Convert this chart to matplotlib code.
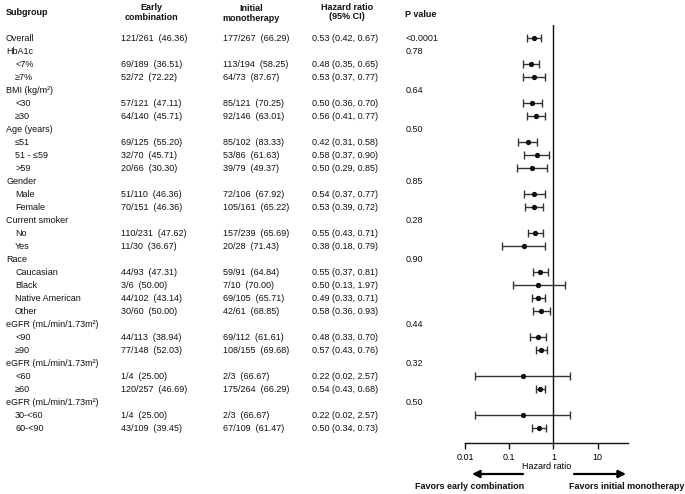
import matplotlib
matplotlib.use("Agg")
import matplotlib.pyplot as plt
from matplotlib.transforms import blended_transform_factory

plt.rcParams['font.family'] = ['Liberation Sans', 'DejaVu Sans']

# table rows (None = group header row without numbers)
labels = ["Overall", "HbA1c", "<7%", "≥7%", "BMI (kg/m²)", "<30", "≥30",
          "Age (years)", "≤51", "51 - ≤59", ">59", "Gender", "Male", "Female",
          "Current smoker", "No", "Yes", "Race", "Caucasian", "Black",
          "Native American", "Other", "eGFR (mL/min/1.73m²)", "<90", "≥90",
          "eGFR (mL/min/1.73m²)", "<60", "≥60", "eGFR (mL/min/1.73m²)",
          "30-<60", "60-<90"]
indented = [0, 0, 1, 1, 0, 1, 1, 0, 1, 1, 1, 0, 1, 1, 0, 1, 1, 0, 1, 1,
            1, 1, 0, 1, 1, 0, 1, 1, 0, 1, 1]

early = ["121/261  (46.36)", "", "69/189  (36.51)", "52/72  (72.22)", "",
         "57/121  (47.11)", "64/140  (45.71)", "", "69/125  (55.20)",
         "32/70  (45.71)", "20/66  (30.30)", "", "51/110  (46.36)",
         "70/151  (46.36)", "", "110/231  (47.62)", "11/30  (36.67)", "",
         "44/93  (47.31)", "3/6  (50.00)", "44/102  (43.14)", "30/60  (50.00)",
         "", "44/113  (38.94)", "77/148  (52.03)", "", "1/4  (25.00)",
         "120/257  (46.69)", "", "1/4  (25.00)", "43/109  (39.45)"]
initial = ["177/267  (66.29)", "", "113/194  (58.25)", "64/73  (87.67)", "",
           "85/121  (70.25)", "92/146  (63.01)", "", "85/102  (83.33)",
           "53/86  (61.63)", "39/79  (49.37)", "", "72/106  (67.92)",
           "105/161  (65.22)", "", "157/239  (65.69)", "20/28  (71.43)", "",
           "59/91  (64.84)", "7/10  (70.00)", "69/105  (65.71)",
           "42/61  (68.85)", "", "69/112  (61.61)", "108/155  (69.68)", "",
           "2/3  (66.67)", "175/264  (66.29)", "", "2/3  (66.67)",
           "67/109  (61.47)"]
hr_text = ["0.53 (0.42, 0.67)", "", "0.48 (0.35, 0.65)", "0.53 (0.37, 0.77)", "",
           "0.50 (0.36, 0.70)", "0.56 (0.41, 0.77)", "", "0.42 (0.31, 0.58)",
           "0.58 (0.37, 0.90)", "0.50 (0.29, 0.85)", "", "0.54 (0.37, 0.77)",
           "0.53 (0.39, 0.72)", "", "0.55 (0.43, 0.71)", "0.38 (0.18, 0.79)", "",
           "0.55 (0.37, 0.81)", "0.50 (0.13, 1.97)", "0.49 (0.33, 0.71)",
           "0.58 (0.36, 0.93)", "", "0.48 (0.33, 0.70)", "0.57 (0.43, 0.76)", "",
           "0.22 (0.02, 2.57)", "0.54 (0.43, 0.68)", "", "0.22 (0.02, 2.57)",
           "0.50 (0.34, 0.73)"]
p_values = ["<0.0001", "0.78", "", "", "0.64", "", "", "0.50", "", "", "",
            "0.85", "", "", "0.28", "", "", "0.90", "", "", "", "", "0.44",
            "", "", "0.32", "", "", "0.50", "", ""]

# markers as drawn in the plot panel
plot_rows = [0, 2, 3, 5, 6, 8, 9, 10, 12, 13, 15, 16, 18, 19, 20, 21, 23, 24,
             26, 27, 29, 30]
plot_hr = [0.36, 0.31, 0.37, 0.33, 0.40, 0.26, 0.42, 0.33, 0.36, 0.36, 0.38,
           0.22, 0.50, 0.45, 0.45, 0.53, 0.44, 0.51, 0.20, 0.50, 0.20, 0.46]
plot_lo = [0.25, 0.20, 0.21, 0.20, 0.25, 0.16, 0.22, 0.15, 0.22, 0.23, 0.27,
           0.07, 0.35, 0.12, 0.32, 0.34, 0.30, 0.40, 0.017, 0.40, 0.017, 0.32]
plot_hi = [0.53, 0.48, 0.63, 0.54, 0.63, 0.43, 0.81, 0.73, 0.63, 0.57, 0.57,
           0.66, 0.77, 1.81, 0.66, 0.84, 0.67, 0.70, 2.31, 0.63, 2.31, 0.68]

W, H = 685, 494
fig = plt.figure(figsize=(W / 100, H / 100), dpi=100)
ax = fig.add_axes([465 / W, 1 - 443 / H, (628 - 465) / W, (443 - 25) / H])

fs = 6.5
ink = '#111111'

# forest plot
err_lo = [h - l for h, l in zip(plot_hr, plot_lo)]
err_hi = [u - h for h, u in zip(plot_hr, plot_hi)]
ax.errorbar(plot_hr, plot_rows, xerr=[err_lo, err_hi], fmt='o', color=ink,
            ecolor='#333333', elinewidth=1.0, capsize=2.6, capthick=1.0,
            markersize=2.8)
ax.axvline(1, color=ink, lw=1.0)
ax.set_xscale('log')
ax.set_xlim(0.01, 48.5)
ax.set_ylim(31.15, -1.0)
ax.set_xticks([0.01, 0.1, 1, 10])
ax.set_xticklabels(["0.01", "0.1", "1", "10"])
ax.minorticks_off()
ax.tick_params(axis='x', labelsize=fs, length=4, width=1.0, color=ink, pad=3)
ax.set_yticks([])
for s in ['left', 'top', 'right']:
    ax.spines[s].set_visible(False)
ax.spines['bottom'].set_linewidth(1.0)
ax.spines['bottom'].set_color(ink)
ax.set_xlabel("Hazard ratio", fontsize=fs, labelpad=0.5)

# table text
tr = blended_transform_factory(fig.transFigure, ax.transData)
for i, lab in enumerate(labels):
    x = 15 if indented[i] else 6
    fig.text(x / W, i, lab, transform=tr, fontsize=fs, va='center', color=ink)
    if early[i]:
        fig.text(121 / W, i, early[i], transform=tr, fontsize=fs, va='center', color=ink)
        fig.text(223 / W, i, initial[i], transform=tr, fontsize=fs, va='center', color=ink)
        fig.text(312 / W, i, hr_text[i], transform=tr, fontsize=fs, va='center', color=ink)
    if p_values[i]:
        fig.text(406 / W, i, p_values[i], transform=tr, fontsize=fs, va='center', color=ink)

# headers
def fy(py):
    return 1 - py / H

fig.text(6 / W, fy(12.5), "Subgroup", fontsize=fs, fontweight='bold', va='center', color=ink)
fig.text(151 / W, fy(12.5), "Early\ncombination", fontsize=fs, fontweight='bold',
         ha='center', va='center', multialignment='center', linespacing=1.05, color=ink)
fig.text(251 / W, fy(13.5), "Initial\nmonotherapy", fontsize=fs, fontweight='bold',
         ha='center', va='center', multialignment='center', linespacing=1.25, color=ink)
fig.text(347 / W, fy(12.3), "Hazard ratio\n(95% CI)", fontsize=fs, fontweight='bold',
         ha='center', va='center', multialignment='center', linespacing=1.0, color=ink)
fig.text(405 / W, fy(14.5), "P value", fontsize=fs, fontweight='bold', va='center', color=ink)

# direction arrows
arrow = dict(arrowstyle='-|>', lw=1.6, color='black', mutation_scale=11,
             shrinkA=0, shrinkB=0)
fig.add_artist(matplotlib.patches.FancyArrowPatch((523 / W, fy(474)), (472 / W, fy(474)),
               transform=fig.transFigure, **arrow))
fig.add_artist(matplotlib.patches.FancyArrowPatch((574 / W, fy(474)), (626 / W, fy(474)),
               transform=fig.transFigure, **arrow))
fig.text(470 / W, fy(486), "Favors early combination", fontsize=fs, fontweight='bold',
         ha='center', va='center', color=ink)
fig.text(627 / W, fy(486), "Favors initial monotherapy", fontsize=fs, fontweight='bold',
         ha='center', va='center', color=ink)

fig.savefig("out.png", dpi=100)
